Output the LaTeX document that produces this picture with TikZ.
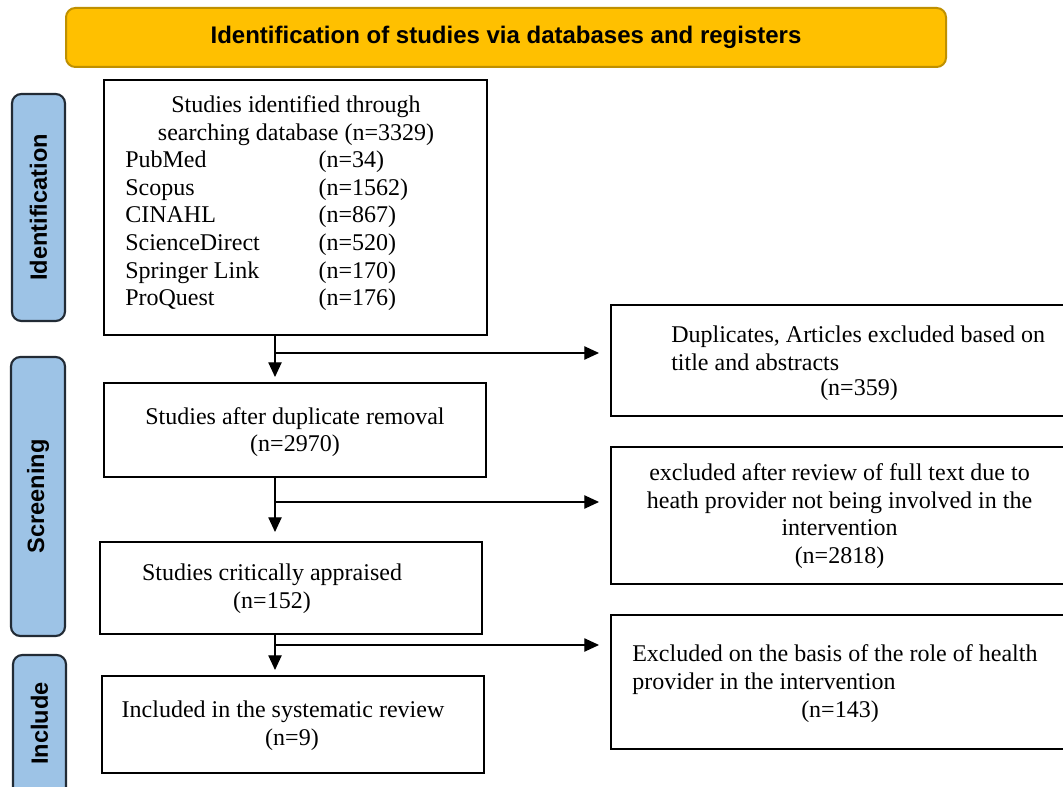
\documentclass[tikz,border=0pt]{standalone}
\usepackage{fontspec}
\setmainfont{Liberation Serif}
\setsansfont{Liberation Sans}
\usetikzlibrary{arrows.meta,calc}
\definecolor{bannerfill}{HTML}{FFC000}
\definecolor{bannerdraw}{HTML}{BF9000}
\definecolor{labfill}{HTML}{9DC3E6}
\definecolor{labdraw}{HTML}{222B35}
\tikzset{
  sz/.style 2 args={minimum width=#1*0.75pt, minimum height=#2*0.75pt},
  banner/.style={draw=bannerdraw, fill=bannerfill, line width=1.5pt, rounded corners=7pt,
    inner sep=0pt, outer sep=0pt, font=\sffamily\bfseries\fontsize{18}{21}\selectfont},
  lab/.style={draw=labdraw, fill=labfill, line width=1.6pt, rounded corners=7pt,
    inner sep=0pt, outer sep=0pt},
  labtxt/.style={rotate=90, font=\sffamily\bfseries\fontsize{17.7}{20}\selectfont, inner sep=0pt},
  box/.style={draw=black, line width=1.5pt, inner sep=0pt, outer sep=0pt, fill=white},
  txt/.style={font=\fontsize{18}{20.7}\selectfont, inner sep=0pt, align=center},
  txtl/.style={font=\fontsize{18}{20.7}\selectfont, inner sep=0pt, align=left},
  arr/.style={draw=black, line width=0.9pt, -{Triangle[length=11pt,width=10pt]}},
}
\begin{document}
\begin{tikzpicture}[x=0.75pt, y=-0.75pt]
\clip (0,0) rectangle (1063,787);
\fill[white] (0,0) rectangle (1063,787);
% banner
\node[banner, sz={880}{59}] (ban) at (506,37.5) {Identification of studies via databases and registers};
% side labels
\node[lab, sz={53}{227}] (l1) at (38.5,207.5) {};
\node[labtxt] (l1t) at (l1.center) {Identification};
\node[lab, sz={54}{279}] (l2) at (38,496.5) {};
\node[labtxt] (l2t) at (l2.center) {Screening};
\node[lab, sz={53}{160}] (l3) at (39.5,735) {};
\node[labtxt] (l3t) at (39.5,723.5) {Include};
% main boxes
\node[box, sz={383}{255}] (b1) at (295.5,207.5) {};
\node[txt] (b1h) at (296,120.5) {Studies identified through\\searching database (n=3329)};
\node[txtl, anchor=west] (b1l) at (125,231) {%
\makebox[145pt][l]{PubMed}(n=34)\\
\makebox[145pt][l]{Scopus}(n=1562)\\
\makebox[145pt][l]{CINAHL}(n=867)\\
\makebox[145pt][l]{ScienceDirect}(n=520)\\
\makebox[145pt][l]{Springer Link}(n=170)\\
\makebox[145pt][l]{ProQuest}(n=176)};
\node[box, sz={382}{94}] (b2) at (295,430) {};
\node[txt] (b2t) at (295,432) {Studies after duplicate removal\\(n=2970)};
\node[box, sz={382}{92}] (b3) at (291,588) {};
\node[txt] (b3t) at (272,589) {Studies critically appraised\\(n=152)};
\node[box, sz={382}{97}] (b4) at (293,724.5) {};
\node[txt] (b4t) at (283,726) {Included in the systematic review\\\hspace*{13.5pt}(n=9)};
% right boxes
\node[box, sz={469}{111}] (r1) at (845.5,360.5) {};
\node[txtl, anchor=west] (r1t) at (671,348.5) {Duplicates, Articles excluded based on\\title and abstracts};
\node[txt] (r1n) at (859,390) {(n=359)};
\node[box, sz={469}{137}] (r2) at (845.5,515.5) {};
\node[txt] (r2t) at (839.5,516) {excluded after review of full text due to\\heath provider not being involved in the\\intervention\\(n=2818)};
\node[box, sz={469}{134}] (r3) at (845.5,682) {};
\node[txtl, anchor=west] (r3t) at (632,669.5) {Excluded on the basis of the role of health\\provider in the intervention};
\node[txt] (r3n) at (840,712) {(n=143)};
% connectors
\coordinate (sp) at (275,0);
\coordinate (j1) at (275,353);
\coordinate (j2) at (275,502);
\coordinate (j3) at (275,645);
\draw[arr, shorten >=4.5pt] (b1.south -| sp) -- (b2.north -| sp);
\draw[arr, shorten >=7.5pt] (b2.south -| sp) -- (b3.north -| sp);
\draw[arr, shorten >=4.5pt] (b3.south -| sp) -- (b4.north -| sp);
\draw[arr, shorten >=9pt] (j1) -- (j1 -| r1.west);
\draw[arr, shorten >=9pt] (j2) -- (j2 -| r2.west);
\draw[arr, shorten >=9pt] (j3) -- (j3 -| r3.west);
\end{tikzpicture}
\end{document}
